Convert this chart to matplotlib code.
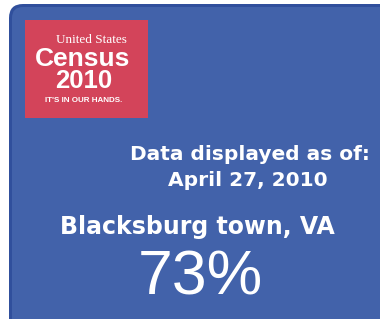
import matplotlib
matplotlib.use("Agg")
import matplotlib.pyplot as plt
from matplotlib.patches import FancyBboxPatch, Rectangle

# badge content
logo_lines = ["United States", "Census", "2010", "IT'S IN OUR HANDS."]
date_lines = ["Data displayed as of:", "April 27, 2010"]
place = "Blacksburg town, VA"
rate = 73

blue = "#4262aa"
rim = "#304f9c"
red = "#d3445a"

fig = plt.figure(figsize=(3.8, 3.19), dpi=100)
ax = fig.add_axes([0, 0, 1, 1])
ax.set_xlim(0, 380)
ax.set_ylim(319, 0)
ax.axis("off")

# blue panel with a darker rim on the left and top; it runs off the right and bottom
ax.add_patch(FancyBboxPatch((9, 4), 60, 60, boxstyle="round,pad=0,rounding_size=14",
                            fc=rim, ec="none"))
ax.add_patch(Rectangle((30, 4), 360, 3, fc=rim, ec="none"))
ax.add_patch(Rectangle((9, 30), 3, 300, fc=rim, ec="none"))
ax.add_patch(FancyBboxPatch((12, 7), 60, 60, boxstyle="round,pad=0,rounding_size=11",
                            fc=blue, ec="none"))
ax.add_patch(Rectangle((30, 7), 360, 320, fc=blue, ec="none"))
ax.add_patch(Rectangle((12, 30), 30, 300, fc=blue, ec="none"))

# red logo box
ax.add_patch(Rectangle((25, 20), 123, 98, fc=red, ec="none"))
narrow = ["Liberation Sans Narrow", "Liberation Sans", "DejaVu Sans"]
ax.text(91, 40, logo_lines[0], color="white", fontsize=9.5, family=["Liberation Serif"],
        ha="center", va="center")
ax.text(83, 58.5, logo_lines[1], color="white", fontsize=19, family=narrow, weight="bold",
        ha="center", va="center")
ax.text(84, 81, logo_lines[2], color="white", fontsize=18.5, family=narrow, weight="bold",
        ha="center", va="center")
ax.text(84, 101, logo_lines[3], color="white", fontsize=5.8, family=narrow, weight="bold",
        ha="center", va="center")

sans = ["DejaVu Sans"]
ax.text(250, 154, date_lines[0], color="white", fontsize=14.5, family=sans, weight="bold",
        ha="center", va="center")
ax.text(248, 181, date_lines[1], color="white", fontsize=14.5, family=sans, weight="bold",
        ha="center", va="center")
ax.text(197, 227, place, color="white", fontsize=17, family=sans, weight="bold",
        ha="center", va="center")
ax.text(200, 278, f"{rate}%", color="white", fontsize=45, family=["Liberation Sans"],
        ha="center", va="center")

fig.savefig("out.png", dpi=100, facecolor="white")
